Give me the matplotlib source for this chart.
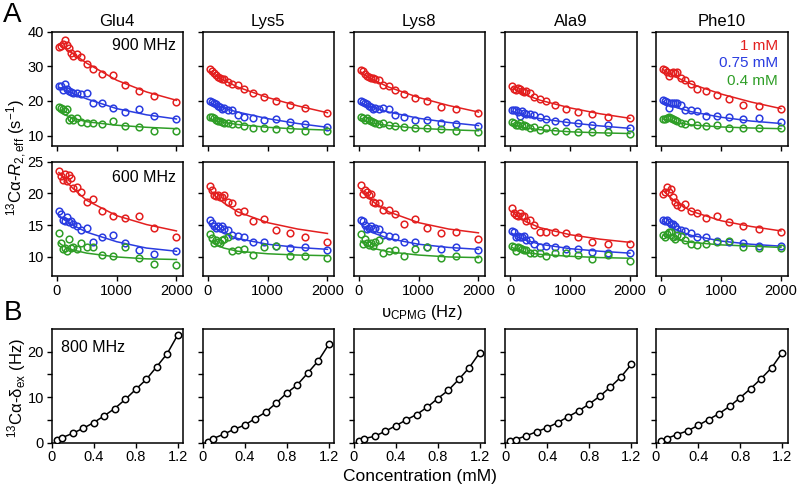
import matplotlib
matplotlib.use('Agg')
import matplotlib.pyplot as plt

plt.rcParams['font.family'] = ['Liberation Sans', 'DejaVu Sans']
plt.rcParams['mathtext.fontset'] = 'custom'
plt.rcParams['mathtext.rm'] = 'Liberation Sans'
plt.rcParams['mathtext.it'] = 'Liberation Sans:italic'
plt.rcParams['mathtext.bf'] = 'Liberation Sans:bold'

# ---------------- data ----------------
residues = ['Glu4', 'Lys5', 'Lys8', 'Ala9', 'Phe10']
conc_labels = ['1 mM', '0.75 mM', '0.4 mM']
nu_cpmg = [33, 67, 100, 133, 167, 200, 233, 267, 333, 400, 500, 600, 750, 933, 1133, 1367, 1633, 2000]
fit_nu = [33, 67, 133, 267, 500, 1000, 1500, 2000]

# 900 MHz
glu4_900_1mM = [35.5, 36.0, 36.5, 37.6, 36.2, 35.3, 33.9, 33.1, 33.5, 32.7, 30.8, 29.1, 27.8, 27.4, 24.7, 23.0, 21.4, 19.7]
glu4_900_075mM = [24.2, 24.3, 23.3, 24.8, 23.4, 23.0, 22.5, 22.2, 22.3, 22.0, 22.4, 19.3, 19.3, 18.1, 16.9, 17.8, 15.8, 14.9]
glu4_900_04mM = [18.2, 18.0, 17.8, 17.2, 17.7, 14.5, 15.0, 14.6, 15.2, 14.0, 13.7, 13.6, 13.4, 14.2, 12.8, 12.5, 11.2, 11.2]
glu4_900_1mM_fit = [36.3, 35.9, 35.2, 33.7, 30.9, 26.0, 22.6, 20.2]
glu4_900_075mM_fit = [24.0, 23.7, 23.2, 22.2, 20.6, 17.8, 16.0, 14.8]
glu4_900_04mM_fit = [17.0, 16.6, 16.0, 15.0, 14.0, 13.0, 12.4, 12.0]

lys5_900_1mM = [29.1, 28.6, 28.0, 27.5, 27.0, 26.6, 26.4, 26.2, 25.6, 25.0, 24.6, 23.4, 22.3, 21.1, 20.1, 18.7, 17.9, 16.4]
lys5_900_075mM = [19.9, 19.8, 19.5, 19.0, 18.6, 18.2, 17.8, 18.0, 17.5, 17.3, 16.0, 15.5, 15.0, 14.5, 14.7, 13.9, 13.4, 12.6]
lys5_900_04mM = [15.4, 15.3, 15.0, 14.6, 14.3, 14.2, 13.9, 13.7, 13.5, 13.3, 13.3, 12.8, 12.3, 12.1, 12.0, 11.8, 11.4, 11.4]
lys5_900_1mM_fit = [28.6, 28.1, 27.3, 26.0, 24.0, 21.0, 18.6, 16.6]
lys5_900_075mM_fit = [19.6, 19.3, 18.8, 17.9, 16.8, 14.9, 13.5, 12.4]
lys5_900_04mM_fit = [15.0, 14.7, 14.3, 13.8, 13.2, 12.4, 11.9, 11.6]

lys8_900_1mM = [28.9, 28.6, 27.8, 27.2, 26.8, 26.5, 26.5, 26.2, 26.0, 24.6, 24.3, 23.1, 22.0, 21.0, 20.0, 18.4, 17.8, 16.4]
lys8_900_075mM = [20.0, 19.6, 19.3, 19.0, 18.6, 18.3, 17.6, 18.1, 17.7, 18.0, 17.6, 15.9, 15.5, 14.5, 14.5, 13.7, 13.3, 12.9]
lys8_900_04mM = [15.5, 15.2, 14.6, 15.0, 14.5, 14.2, 13.8, 13.5, 13.3, 13.5, 13.2, 12.9, 12.6, 12.1, 12.1, 11.8, 11.2, 11.1]
lys8_900_1mM_fit = [28.4, 27.9, 27.1, 25.9, 24.0, 21.0, 18.7, 16.8]
lys8_900_075mM_fit = [19.5, 19.2, 18.7, 17.9, 16.8, 15.0, 13.8, 12.9]
lys8_900_04mM_fit = [15.0, 14.6, 14.1, 13.5, 12.9, 12.1, 11.7, 11.4]

ala9_900_1mM = [24.4, 23.6, 23.2, 23.8, 23.4, 23.0, 22.6, 23.0, 22.2, 21.2, 20.5, 20.0, 18.7, 17.6, 16.9, 16.2, 15.5, 15.0]
ala9_900_075mM = [17.3, 17.4, 17.3, 16.9, 15.8, 17.0, 16.6, 16.1, 16.2, 15.9, 15.5, 14.8, 14.2, 14.0, 13.5, 13.1, 13.0, 12.3]
ala9_900_04mM = [14.0, 13.5, 13.1, 13.1, 13.5, 12.9, 13.1, 12.9, 12.3, 12.6, 11.7, 12.1, 11.4, 11.4, 11.1, 11.0, 11.0, 10.4]
ala9_900_1mM_fit = [23.9, 23.5, 22.8, 21.7, 20.2, 18.0, 16.3, 15.0]
ala9_900_075mM_fit = [17.0, 16.8, 16.4, 15.8, 14.9, 13.7, 12.8, 12.1]
ala9_900_04mM_fit = [13.4, 13.1, 12.7, 12.2, 11.7, 11.1, 10.8, 10.6]

phe10_900_1mM = [29.3, 29.0, 28.5, 27.1, 28.2, 28.5, 28.0, 28.4, 26.5, 26.0, 25.0, 23.6, 22.9, 21.7, 20.5, 18.8, 18.5, 17.7]
phe10_900_075mM = [20.2, 20.0, 19.6, 18.0, 19.3, 19.3, 19.3, 19.3, 18.8, 17.4, 17.4, 17.1, 15.7, 15.6, 15.5, 14.8, 15.0, 14.0]
phe10_900_04mM = [14.9, 14.8, 15.0, 15.5, 15.2, 14.7, 14.5, 14.3, 13.5, 13.3, 14.0, 13.1, 12.9, 13.1, 12.3, 12.1, 12.3, 12.1]
phe10_900_1mM_fit = [29.0, 28.6, 27.9, 26.7, 24.9, 22.0, 19.7, 17.8]
phe10_900_075mM_fit = [19.8, 19.4, 18.9, 18.0, 16.9, 15.3, 14.2, 13.5]
phe10_900_04mM_fit = [14.8, 14.6, 14.2, 13.7, 13.1, 12.5, 12.2, 12.0]

# 600 MHz
glu4_600_1mM = [23.5, 22.7, 22.1, 23.1, 22.0, 22.9, 22.5, 20.8, 21.0, 20.2, 18.7, 19.2, 17.3, 16.5, 16.1, 16.5, 14.5, 13.1]
glu4_600_075mM = [17.3, 16.7, 15.8, 15.7, 16.3, 15.5, 15.6, 15.2, 14.9, 14.2, 14.6, 12.4, 13.2, 13.4, 12.2, 11.1, 10.4, 11.0]
glu4_600_04mM = [13.8, 12.2, 11.3, 11.4, 10.9, 12.9, 11.4, 11.6, 11.2, 12.2, 11.6, 11.5, 10.3, 10.1, 11.5, 9.8, 8.9, 8.8]
glu4_600_1mM_fit = [23.3, 22.9, 22.1, 20.8, 18.9, 16.5, 15.1, 14.1]
glu4_600_075mM_fit = [16.6, 16.3, 15.8, 15.0, 13.9, 12.4, 11.4, 10.9]
glu4_600_04mM_fit = [12.3, 12.0, 11.6, 11.1, 10.6, 10.0, 9.7, 9.6]

lys5_600_1mM = [21.2, 20.6, 19.8, 19.6, 19.7, 19.5, 19.4, 19.8, 18.7, 18.5, 17.0, 17.2, 15.7, 16.0, 14.3, 13.8, 13.2, 12.4]
lys5_600_075mM = [15.8, 15.4, 14.9, 14.5, 14.8, 14.5, 14.9, 14.4, 14.3, 13.5, 13.3, 13.1, 12.4, 12.3, 11.8, 11.4, 11.6, 11.1]
lys5_600_04mM = [13.6, 13.0, 12.2, 12.6, 12.3, 12.2, 12.7, 12.9, 13.2, 10.9, 11.1, 11.3, 10.3, 11.5, 11.8, 10.2, 10.2, 9.9]
lys5_600_1mM_fit = [20.6, 20.2, 19.5, 18.5, 17.1, 15.4, 14.4, 13.7]
lys5_600_075mM_fit = [15.2, 14.9, 14.4, 13.7, 12.9, 12.0, 11.5, 11.2]
lys5_600_04mM_fit = [12.6, 12.3, 11.9, 11.4, 10.9, 10.5, 10.3, 10.2]

lys8_600_1mM = [21.3, 19.9, 20.5, 20.2, 19.8, 19.9, 18.7, 18.5, 18.5, 17.4, 17.4, 16.8, 15.2, 16.0, 14.5, 13.8, 14.0, 12.9]
lys8_600_075mM = [15.8, 15.6, 15.1, 14.4, 14.6, 14.8, 14.4, 14.6, 14.4, 13.5, 13.3, 13.2, 12.4, 12.3, 11.6, 11.3, 11.6, 11.1]
lys8_600_04mM = [13.6, 12.0, 12.9, 12.2, 11.9, 12.2, 11.8, 12.4, 12.7, 10.6, 10.9, 11.1, 10.1, 11.3, 11.5, 9.9, 10.2, 9.7]
lys8_600_1mM_fit = [20.5, 20.1, 19.5, 18.5, 17.1, 15.4, 14.4, 13.8]
lys8_600_075mM_fit = [15.2, 14.9, 14.4, 13.7, 12.9, 12.0, 11.5, 11.2]
lys8_600_04mM_fit = [12.5, 12.2, 11.8, 11.3, 10.8, 10.3, 10.0, 9.9]

ala9_600_1mM = [17.7, 16.9, 16.6, 16.5, 16.9, 16.5, 16.5, 15.7, 15.8, 15.1, 13.9, 14.0, 14.0, 13.7, 13.1, 12.3, 12.0, 12.0]
ala9_600_075mM = [14.1, 13.9, 13.1, 13.3, 13.2, 13.2, 13.3, 12.7, 12.7, 12.0, 11.6, 11.8, 11.5, 11.3, 11.3, 10.8, 10.6, 10.7]
ala9_600_04mM = [11.8, 11.6, 11.0, 11.5, 11.4, 11.3, 11.1, 11.1, 10.7, 10.6, 10.7, 10.1, 10.6, 10.6, 10.3, 9.7, 10.3, 9.3]
ala9_600_1mM_fit = [17.1, 16.8, 16.3, 15.5, 14.6, 13.5, 12.8, 12.3]
ala9_600_075mM_fit = [13.7, 13.5, 13.1, 12.6, 12.0, 11.3, 10.9, 10.6]
ala9_600_04mM_fit = [11.5, 11.3, 11.0, 10.7, 10.4, 10.1, 9.9, 9.8]

phe10_600_1mM = [19.9, 20.3, 21.0, 20.2, 20.7, 19.4, 18.7, 18.2, 17.9, 18.3, 17.2, 16.9, 16.1, 16.5, 15.5, 14.8, 14.4, 14.0]
phe10_600_075mM = [15.8, 15.7, 15.8, 15.5, 15.2, 15.2, 14.8, 14.4, 14.3, 14.1, 13.7, 13.2, 13.1, 12.5, 12.4, 12.2, 11.8, 11.7]
phe10_600_04mM = [13.4, 13.2, 13.6, 13.9, 14.0, 13.2, 12.9, 13.4, 13.3, 12.7, 12.0, 11.9, 12.0, 12.4, 12.5, 11.5, 11.4, 11.4]
phe10_600_1mM_fit = [20.4, 20.1, 19.5, 18.5, 17.2, 15.7, 14.8, 14.1]
phe10_600_075mM_fit = [15.6, 15.3, 14.9, 14.2, 13.4, 12.5, 12.0, 11.7]
phe10_600_04mM_fit = [13.5, 13.3, 13.0, 12.7, 12.3, 11.9, 11.7, 11.5]

# Panel B: 800 MHz delta_ex vs concentration
concentration = [0.05, 0.1, 0.2, 0.3, 0.4, 0.5, 0.6, 0.7, 0.8, 0.9, 1.0, 1.1, 1.2]
glu4_dex = [0.6, 1.1, 2.05, 3.15, 4.4, 5.9, 7.5, 9.5, 11.7, 13.9, 16.7, 19.6, 23.7]
lys5_dex = [0.2, 0.9, 1.85, 2.95, 3.85, 5.3, 6.7, 8.7, 10.9, 12.7, 15.3, 18.0, 21.6]
lys8_dex = [0.4, 0.9, 1.4, 2.5, 3.7, 5.0, 6.2, 7.8, 9.7, 11.5, 13.9, 16.5, 19.8]
ala9_dex = [0.3, 0.7, 1.5, 2.4, 3.3, 4.4, 5.7, 7.0, 8.5, 10.2, 12.2, 14.4, 17.2]
phe10_dex = [0.3, 0.9, 1.8, 2.6, 3.8, 5.1, 6.4, 8.0, 9.9, 11.9, 14.1, 16.5, 19.8]

data_900 = [
    (glu4_900_1mM, glu4_900_075mM, glu4_900_04mM, glu4_900_1mM_fit, glu4_900_075mM_fit, glu4_900_04mM_fit),
    (lys5_900_1mM, lys5_900_075mM, lys5_900_04mM, lys5_900_1mM_fit, lys5_900_075mM_fit, lys5_900_04mM_fit),
    (lys8_900_1mM, lys8_900_075mM, lys8_900_04mM, lys8_900_1mM_fit, lys8_900_075mM_fit, lys8_900_04mM_fit),
    (ala9_900_1mM, ala9_900_075mM, ala9_900_04mM, ala9_900_1mM_fit, ala9_900_075mM_fit, ala9_900_04mM_fit),
    (phe10_900_1mM, phe10_900_075mM, phe10_900_04mM, phe10_900_1mM_fit, phe10_900_075mM_fit, phe10_900_04mM_fit),
]
data_600 = [
    (glu4_600_1mM, glu4_600_075mM, glu4_600_04mM, glu4_600_1mM_fit, glu4_600_075mM_fit, glu4_600_04mM_fit),
    (lys5_600_1mM, lys5_600_075mM, lys5_600_04mM, lys5_600_1mM_fit, lys5_600_075mM_fit, lys5_600_04mM_fit),
    (lys8_600_1mM, lys8_600_075mM, lys8_600_04mM, lys8_600_1mM_fit, lys8_600_075mM_fit, lys8_600_04mM_fit),
    (ala9_600_1mM, ala9_600_075mM, ala9_600_04mM, ala9_600_1mM_fit, ala9_600_075mM_fit, ala9_600_04mM_fit),
    (phe10_600_1mM, phe10_600_075mM, phe10_600_04mM, phe10_600_1mM_fit, phe10_600_075mM_fit, phe10_600_04mM_fit),
]
data_dex = [glu4_dex, lys5_dex, lys8_dex, ala9_dex, phe10_dex]

colors = ['#e31f1f', '#2a3ce0', '#2f9e27']

# ---------------- figure ----------------
W, H = 802, 487
fig = plt.figure(figsize=(W / 100, H / 100), dpi=100)

col_left = [51.5, 202.5, 353.5, 505, 656]
ax_w = 131.5
rows = [(31.7, 146.0), (161.7, 276.0), (329.0, 442.7)]

TICK_FS = 10.5


def make_ax(px_left, top, bottom):
    return fig.add_axes([px_left / W, 1 - bottom / H, ax_w / W, (bottom - top) / H])


def style(ax):
    for s in ax.spines.values():
        s.set_linewidth(1.1)
    ax.tick_params(direction='out', length=3.5, width=1.0, labelsize=TICK_FS, pad=2)


for row_i, (dataset, ylim, yticks) in enumerate([
        (data_900, (7, 40), [10, 20, 30, 40]),
        (data_600, (7, 25), [10, 15, 20, 25])]):
    top, bottom = rows[row_i]
    for ci in range(5):
        ax = make_ax(col_left[ci], top, bottom)
        style(ax)
        series = dataset[ci]
        for k in range(3):
            ax.plot(fit_nu, series[3 + k], '-', color=colors[k], lw=1.1, zorder=2)
            ax.plot(nu_cpmg, series[k], 'o', mfc='none', mec=colors[k], ms=4.8, mew=1.1, zorder=3)
        ax.set_xlim(-90, 2110)
        ax.set_ylim(*ylim)
        ax.set_xticks([0, 1000, 2000])
        ax.set_yticks(yticks)
        if row_i == 0:
            ax.set_xticklabels([])
            ax.set_title(residues[ci], fontsize=12, pad=4)
        else:
            ax.set_xticklabels(['0', '1000', '2000'])
        if ci != 0:
            ax.set_yticklabels([])
        if ci == 0:
            if row_i == 0:
                ax.text(0.947, 0.879, '900 MHz', transform=ax.transAxes, ha='right', va='center', fontsize=11.5)
            else:
                ax.text(0.947, 0.862, '600 MHz', transform=ax.transAxes, ha='right', va='center', fontsize=11.5)
        if ci == 4 and row_i == 0:
            for k, (lab, yy) in enumerate(zip(conc_labels, [0.875, 0.724, 0.569])):
                ax.text(0.928, yy, lab, transform=ax.transAxes, ha='right', va='center',
                        fontsize=11, color=colors[k])

# Panel B
top, bottom = rows[2]
for ci in range(5):
    ax = make_ax(col_left[ci], top, bottom)
    style(ax)
    ax.plot(concentration, data_dex[ci], '-', color='black', lw=1.1, zorder=2)
    ax.plot(concentration, data_dex[ci], 'o', mfc='white', mec='black', ms=4.6, mew=1.1, zorder=3)
    ax.set_xlim(0, 1.25)
    ax.set_ylim(0, 25)
    ax.set_xticks([0, 0.4, 0.8, 1.2])
    ax.set_xticklabels(['0', '0.4', '0.8', '1.2'])
    ax.set_yticks([0, 5, 10, 15, 20])
    if ci == 0:
        ax.set_yticklabels(['0', '', '10', '', '20'])
        ax.text(0.07, 0.84, '800 MHz', transform=ax.transAxes, ha='left', va='center', fontsize=11.5)
    else:
        ax.set_yticklabels([])

# Labels
fig.text(12.5 / W, 1 - 15 / H, 'A', fontsize=20, ha='center', va='center')
fig.text(12.5 / W, 1 - 313 / H, 'B', fontsize=20, ha='center', va='center')
fig.text(17 / W, 1 - 158 / H, '$^{13}$Cα-$R_{\\mathrm{2,eff}}$ (s$^{-1}$)', rotation=90,
         fontsize=12, ha='center', va='center')
fig.text(17 / W, 1 - 388 / H, '$^{13}$Cα-δ$_{\\mathrm{ex}}$ (Hz)', rotation=90,
         fontsize=12, ha='center', va='center')
fig.text(422 / W, 1 - 312 / H, 'υ$_{\\mathrm{CPMG}}$ (Hz)', fontsize=12, ha='center', va='center')
fig.text(420 / W, 1 - 476 / H, 'Concentration (mM)', fontsize=12.5, ha='center', va='center')

fig.savefig('out.png', dpi=100)
